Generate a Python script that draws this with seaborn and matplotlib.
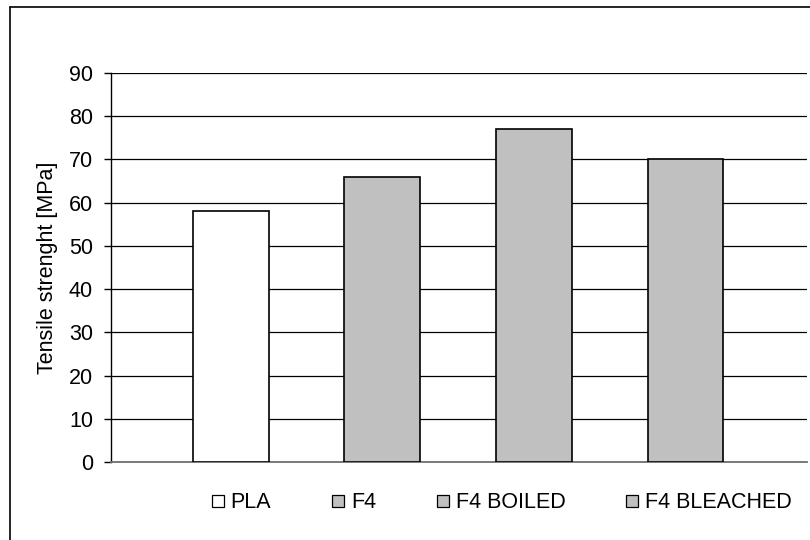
import pandas as pd
import seaborn as sns
import matplotlib.pyplot as plt
from matplotlib.lines import Line2D

sns.set_theme(style="white")
plt.rcParams['font.family'] = ['Liberation Sans', 'DejaVu Sans']
plt.rcParams['text.color'] = 'black'
plt.rcParams['axes.labelcolor'] = 'black'
plt.rcParams['ytick.color'] = 'black'

# Data
samples = ['PLA', 'F4', 'F4 BOILED', 'F4 BLEACHED']
tensile = [58, 66, 77, 70]
colors = ['#FFFFFF', '#C0C0C0', '#C0C0C0', '#C0C0C0']

df = pd.DataFrame({'sample': samples, 'tensile': tensile})

fig = plt.figure(figsize=(8.1, 5.4), dpi=100)
ax = fig.add_axes([0.137, 0.1444, 0.859, 0.7204])

sns.barplot(data=df, x='sample', y='tensile', hue='sample', palette=colors,
            edgecolor='black', linewidth=1.2, width=0.5, legend=False,
            ax=ax, zorder=3)

# Axis range and ticks
ax.set_ylim(0, 90)
ax.set_yticks(range(0, 91, 10))
ax.set_xlim(-0.79, 3.8)
ax.set_xticks([])
ax.set_xlabel('')
ax.set_ylabel('Tensile strenght [MPa]', fontsize=15.5, labelpad=8)
ax.tick_params(axis='y', labelsize=15.5, direction='out', length=5, width=1,
               color='black', left=True, pad=8)

# Horizontal gridlines
ax.yaxis.grid(True, color='black', linewidth=0.9)
ax.set_axisbelow(True)

for side in ['top', 'right']:
    ax.spines[side].set_visible(False)
ax.spines['left'].set_color('black')
ax.spines['left'].set_linewidth(1)
ax.spines['bottom'].set_color('#707070')
ax.spines['bottom'].set_linewidth(1.3)

# Legend with square markers
handles = [Line2D([0], [0], marker='s', linestyle='', markersize=8,
                  markerfacecolor=c, markeredgecolor='black', markeredgewidth=0.9)
           for c in colors]
fig.legend(handles, samples, loc='center', bbox_to_anchor=(0.62, 0.069),
           ncol=4, frameon=False, fontsize=15.5, handletextpad=0.35,
           columnspacing=2.85, handlelength=0.5)

# Outer chart border
fig.add_artist(Line2D([10 / 810, 10 / 810], [0, 1 - 7 / 540],
                      color='black', linewidth=1.2, transform=fig.transFigure))
fig.add_artist(Line2D([10 / 810, 1], [1 - 7 / 540, 1 - 7 / 540],
                      color='black', linewidth=1.2, transform=fig.transFigure))

fig.savefig('out.png', dpi=100)
